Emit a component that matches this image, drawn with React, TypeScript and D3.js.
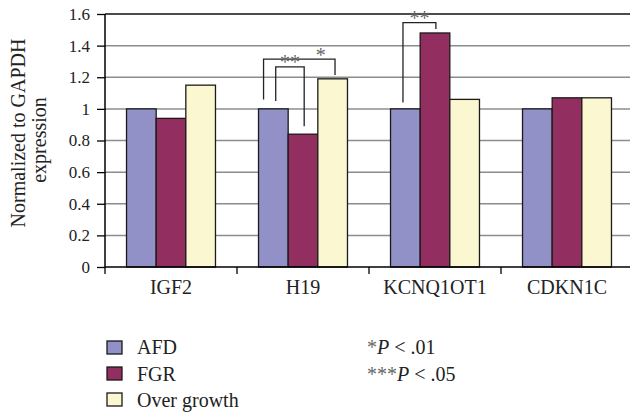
import React, { useEffect, useRef } from 'react';
import * as d3 from 'd3';

const categories = ['IGF2', 'H19', 'KCNQ1OT1', 'CDKN1C'];
const seriesNames = ['AFD', 'FGR', 'Over growth'];
const afdValues = [1, 1, 1, 1];
const fgrValues = [0.94, 0.84, 1.48, 1.07];
const overGrowthValues = [1.15, 1.19, 1.06, 1.07];
const yTicks = [0, 0.2, 0.4, 0.6, 0.8, 1, 1.2, 1.4, 1.6];
const seriesColors = ['#9191c7', '#932f60', '#fbf7d0'];

// significance brackets (values in data units)
const bracketCats = ['H19', 'H19', 'KCNQ1OT1'];
const bracketFrom = [0, 0, 0];
const bracketTo = [2, 1, 1];
const bracketLeftY = [1.06, 1.05, 1.04];
const bracketTopY = [1.315, 1.265, 1.545];
const bracketRightY = [1.215, 0.89, 1.505];
const bracketLabels = ['*', '**', '**'];

const pNotes = ['*', '***'];
const pValues = ['.01', '.05'];

const FONT = 'Liberation Serif, DejaVu Serif, serif';

export default function App() {
  const svgRef = useRef<SVGSVGElement>(null);

  useEffect(() => {
    const width = 630;
    const height = 414;
    const margin = { top: 14, left: 105 };
    const plotW = 528;
    const plotH = 253;

    const svg = d3.select(svgRef.current).attr('width', width).attr('height', height).html(null)
      .style('font-family', FONT);

    const x0 = d3.scaleBand<string>().domain(categories).range([margin.left, margin.left + plotW])
      .paddingInner(0.326).paddingOuter(0.163);
    const x1 = d3.scaleBand<number>().domain([0, 1, 2]).range([0, x0.bandwidth()]);
    const y = d3.scaleLinear().domain([0, 1.6]).range([margin.top + plotH, margin.top]);

    const series = [afdValues, fgrValues, overGrowthValues];

    // grid
    svg.append('g').selectAll('line')
      .data(yTicks.filter((t) => t > 0))
      .join('line')
      .attr('x1', margin.left).attr('x2', width)
      .attr('y1', (d) => y(d)).attr('y2', (d) => y(d))
      .attr('stroke', (d) => (d === 1.6 ? '#111' : '#8c8c8c'))
      .attr('stroke-width', 1.5);

    // bars
    series.forEach((vals, si) => {
      svg.append('g').selectAll('rect')
        .data(vals)
        .join('rect')
        .attr('x', (d, i) => (x0(categories[i]) as number) + (x1(si) as number))
        .attr('y', (d) => y(d))
        .attr('width', x1.bandwidth())
        .attr('height', (d) => y(0) - y(d))
        .attr('fill', seriesColors[si])
        .attr('stroke', '#1a1a1a')
        .attr('stroke-width', 1.3);
    });

    // y axis
    const yAxis = svg.append('g')
      .attr('transform', `translate(${margin.left},0)`)
      .call(d3.axisLeft(y).tickValues(yTicks).tickSize(8).tickPadding(7).tickFormat((d) => String(d)));
    yAxis.attr('font-family', null).attr('font-size', null);
    yAxis.select('.domain').attr('stroke', '#000').attr('stroke-width', 1.5).attr('d', `M0,${y(0)}V${y(1.6)}`);
    yAxis.selectAll('.tick line').attr('stroke', '#000').attr('stroke-width', 1.3);
    yAxis.selectAll('.tick text').style('font-family', FONT).attr('font-size', 17).attr('fill', '#222');

    // x axis line + category separator ticks
    svg.append('line')
      .attr('x1', margin.left).attr('x2', width)
      .attr('y1', y(0)).attr('y2', y(0))
      .attr('stroke', '#000').attr('stroke-width', 1.5);
    const half = (x0.step() * x0.paddingInner()) / 2;
    svg.append('g').selectAll('line')
      .data(categories)
      .join('line')
      .attr('x1', (d) => (x0(d) as number) - half)
      .attr('x2', (d) => (x0(d) as number) - half)
      .attr('y1', y(0)).attr('y2', y(0) + 7)
      .attr('stroke', '#000').attr('stroke-width', 1.3);
    svg.append('g').selectAll('text')
      .data(categories)
      .join('text')
      .attr('x', (d) => (x0(d) as number) + x0.bandwidth() / 2)
      .attr('y', 294)
      .attr('text-anchor', 'middle')
      .attr('font-size', 20).attr('fill', '#222')
      .text((d) => d);

    // y title
    const yt = svg.append('text')
      .attr('transform', 'translate(25,133) rotate(-90)')
      .attr('text-anchor', 'middle')
      .attr('font-size', 20).attr('fill', '#222');
    yt.append('tspan').attr('x', 0).attr('y', 0).text('Normalized to GAPDH');
    yt.append('tspan').attr('x', -7).attr('y', 21).text('expression');

    // brackets
    const anchorL = [0.17, 0.58, 0.42];
    const anchorR = [0.58, 0.54, 0.53];
    const labelPos = [0.8, 0.5, 0.5];
    const labelGap = [3, 2, 2];
    bracketCats.forEach((cat, i) => {
      const bx = x0(cat) as number;
      const xl = bx + (x1(bracketFrom[i]) as number) + anchorL[i] * x1.bandwidth();
      const xr = bx + (x1(bracketTo[i]) as number) + anchorR[i] * x1.bandwidth();
      const path = d3.path();
      path.moveTo(xl, y(bracketLeftY[i]));
      path.lineTo(xl, y(bracketTopY[i]));
      path.lineTo(xr, y(bracketTopY[i]));
      path.lineTo(xr, y(bracketRightY[i]));
      svg.append('path').attr('d', path.toString())
        .attr('fill', 'none').attr('stroke', '#222').attr('stroke-width', 1.3);
      svg.append('text')
        .attr('x', xl + (xr - xl) * labelPos[i])
        .attr('y', y(bracketTopY[i]) + labelGap[i])
        .attr('text-anchor', 'middle')
        .attr('font-size', 20).attr('fill', '#666')
        .text(bracketLabels[i]);
    });

    // legend
    const leg = svg.append('g');
    seriesNames.forEach((name, i) => {
      leg.append('rect')
        .attr('x', 107).attr('y', 341 + i * 26)
        .attr('width', 15).attr('height', 13)
        .attr('fill', seriesColors[i]).attr('stroke', '#1a1a1a').attr('stroke-width', 1.3);
      leg.append('text')
        .attr('x', 137).attr('y', 354 + i * 26.5)
        .attr('font-size', 20).attr('fill', '#222')
        .text(name);
    });
    pNotes.forEach((stars, i) => {
      const t = leg.append('text')
        .attr('x', 367).attr('y', 354 + i * 27)
        .attr('font-size', 20).attr('fill', '#222');
      t.append('tspan').attr('fill', '#666').text(stars);
      t.append('tspan').attr('font-style', 'italic').text('P');
      t.append('tspan').text(` < ${pValues[i]}`);
    });
  }, []);

  return (
    <div style={{ position: 'absolute', left: 0, top: 0 }}>
      <svg ref={svgRef} style={{ display: 'block', background: '#fff' }} />
    </div>
  );
}
